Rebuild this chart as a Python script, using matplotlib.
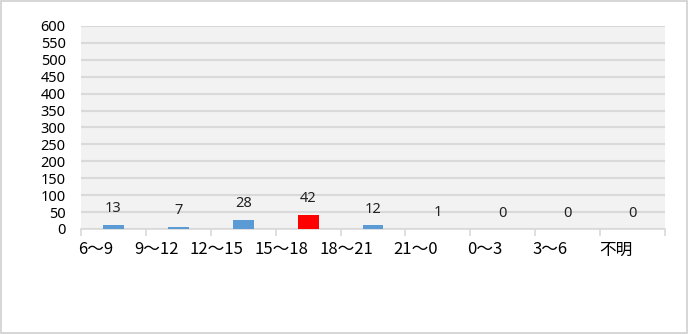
import matplotlib
matplotlib.use('Agg')
import matplotlib.pyplot as plt
from matplotlib.patches import Rectangle
import numpy as np

plt.rcParams['font.family'] = ['Noto Sans CJK JP', 'DejaVu Sans']

# データ
categories = ['6～9', '9～12', '12～15', '15～18', '18～21', '21～0', '0～3', '3～6', '不明']
counts = [13, 7, 28, 42, 12, 1, 0, 0, 0]
highlight = '15～18'

blue = '#5B9BD5'
red = '#FF0000'
colors = [red if c == highlight else blue for c in categories]

fig = plt.figure(figsize=(6.9, 3.34), dpi=100)
fig.patches.append(Rectangle((0.002, 0.003), 0.994, 0.994, transform=fig.transFigure,
                             fill=False, edgecolor='#D0D0D0', linewidth=1.2))

ax = fig.add_axes([0.1174, 0.3144, 0.8464, 0.6078])
ax.set_facecolor('#F2F2F2')

x = np.arange(len(categories))
bars = ax.bar(x, counts, width=0.32, color=colors, zorder=3)

for xi, v in zip(x, counts):
    ax.annotate(str(v), (xi, v), xytext=(0, 6), textcoords='offset points',
                ha='center', va='bottom', fontsize=10.5, family=['Noto Sans', 'DejaVu Sans'],
                color='#222222')

ax.set_xlim(-0.5, len(categories) - 0.5)
ax.set_ylim(0, 600)
ax.set_yticks(np.arange(0, 601, 50))
ax.yaxis.grid(True, color='#D9D9D9', linewidth=1.5, zorder=0)
ax.set_axisbelow(True)

ax.set_xticks(x)
ax.set_xticklabels(categories, ha='right', fontsize=12)
ax.set_xticks(np.arange(-0.5, len(categories)), minor=True)
ax.tick_params(axis='x', which='major', length=0, pad=9)
ax.tick_params(axis='x', which='minor', length=5, color='#D9D9D9', width=1.2)
ax.tick_params(axis='y', length=0, pad=11, labelsize=10.5)
for lbl in ax.get_yticklabels():
    lbl.set_family(['Noto Sans', 'DejaVu Sans'])

for s in ['top', 'right', 'left']:
    ax.spines[s].set_visible(False)
ax.spines['bottom'].set_color('#D9D9D9')
ax.spines['bottom'].set_linewidth(1.2)

fig.savefig('out.png', dpi=100)
